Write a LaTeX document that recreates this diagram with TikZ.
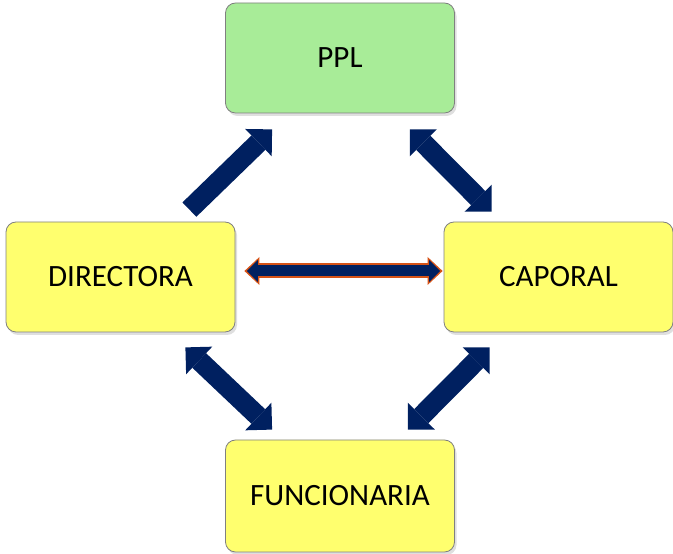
\documentclass[tikz,border=0pt]{standalone}
\usepackage{fontspec}
\setmainfont{Carlito}
\usepackage{tikz}
\usetikzlibrary{arrows.meta,positioning,calc,shadows}

\definecolor{boxgreen}{RGB}{168,236,152}
\definecolor{boxyellow}{RGB}{255,255,110}
\definecolor{arrownavy}{RGB}{0,32,96}
\definecolor{rimorange}{RGB}{214,82,22}

\begin{document}
\begin{tikzpicture}[x=1pt,y=1pt,node distance=219pt,
		bigarrow/.style={draw=arrownavy,line width=20pt},
		head/.tip={Triangle[length=19pt,width=38pt,line width=0pt]}]
		\tikzstyle{every box}=[draw=black!50,line width=0.8pt,rounded corners=10pt,
			minimum width=229pt,minimum height=110pt,font=\fontsize{31}{36}\selectfont,
			drop shadow={opacity=0.25,shadow xshift=2pt,shadow yshift=-3pt}]
		\useasboundingbox (0,0) rectangle (673,554);
		\node[every box, fill=boxgreen]    (PPL)    at (340,496)           {PPL};
		\node[every box, fill=boxyellow]   (DIR)[below of = PPL, xshift=-219.5pt]   {DIRECTORA};
		\node[every box, fill=boxyellow]   (CAP)[below of = PPL, xshift=218.5pt]    {CAPORAL};
		\node[every box, fill=boxyellow, minimum height=112pt]   (FUN)[below of = PPL, node distance=438pt]   {FUNCIONARIA};
		
		% ends of the block arrows
		\coordinate (d1) at ($(DIR.north east)+(-46,12)$);
		\coordinate (p1) at ($(PPL.south west)+(47,-16)$);
		\coordinate (p2) at ($(PPL.south east)+(-45,-16)$);
		\coordinate (c1) at ($(CAP.north west)+(48,10)$);
		\coordinate (d2) at ($(DIR.south east)+(-50,-15)$);
		\coordinate (f1) at ($(FUN.north west)+(47,10)$);
		\coordinate (c2) at ($(CAP.south west)+(46,-15)$);
		\coordinate (f2) at ($(FUN.north east)+(-47,10)$);
		\coordinate (m1) at ($(DIR.east)+(9,6)$);
		\coordinate (m2) at ($(CAP.west)+(-1,6)$);
		
		\draw[bigarrow,-head] (d1) -- (p1);
		\draw[bigarrow,head-head] (p2) -- (c1);
		\draw[bigarrow,head-head] (d2) -- (f1);
		\draw[bigarrow,head-head] (c2) -- (f2);
		
		\draw[draw=rimorange,line width=15pt,
			{Triangle[length=15pt,width=28pt,line width=0pt]}-{Triangle[length=15pt,width=28pt,line width=0pt]}] (m1) -- (m2);
		\draw[draw=arrownavy,line width=11pt,shorten <=2.5pt,shorten >=2.5pt,
			{Triangle[length=11pt,width=22pt,line width=0pt]}-{Triangle[length=11pt,width=22pt,line width=0pt]}] (m1) -- (m2);
		
\end{tikzpicture}
\end{document}
